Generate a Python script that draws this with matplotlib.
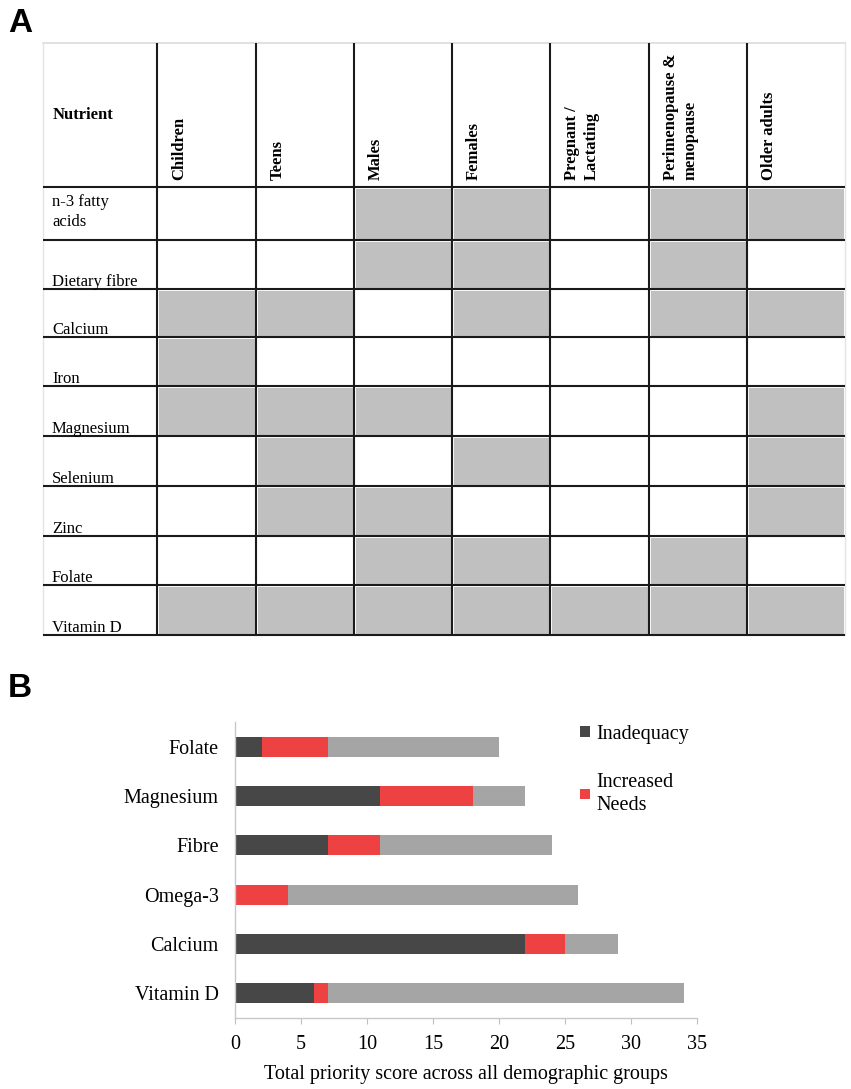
import matplotlib
matplotlib.use("Agg")
import matplotlib.pyplot as plt
from matplotlib.patches import Rectangle, Patch

plt.rcParams['font.family'] = ['Liberation Serif', 'DejaVu Serif']

# ---------------- data ----------------
groups = ["Children", "Teens", "Males", "Females", "Pregnant /\nLactating",
          "Perimenopause &\nmenopause", "Older adults"]
nutrients = ["n-3 fatty\nacids", "Dietary fibre", "Calcium", "Iron", "Magnesium",
             "Selenium", "Zinc", "Folate", "Vitamin D"]
priority = [
    [0, 0, 1, 1, 0, 1, 1],
    [0, 0, 1, 1, 0, 1, 0],
    [1, 1, 0, 1, 0, 1, 1],
    [1, 0, 0, 0, 0, 0, 0],
    [1, 1, 1, 0, 0, 0, 1],
    [0, 1, 0, 1, 0, 0, 1],
    [0, 1, 1, 0, 0, 0, 1],
    [0, 0, 1, 1, 0, 1, 0],
    [1, 1, 1, 1, 1, 1, 1],
]

bar_nutrients = ["Vitamin D", "Calcium", "Omega-3", "Fibre", "Magnesium", "Folate"]
inadequacy = [6, 22, 0, 7, 11, 2]
increased_needs = [1, 3, 4, 4, 7, 5]
other_score = [27, 4, 22, 13, 4, 13]
x_ticks = [0, 5, 10, 15, 20, 25, 30, 35]

# ---------------- figure ----------------
W, H = 851, 1089
fig = plt.figure(figsize=(W / 100, H / 100), dpi=100)

# ---- panel A: table (pixel coordinates) ----
axt = fig.add_axes([0, 0, 1, 1])
axt.set_xlim(0, W)
axt.set_ylim(H, 0)
axt.axis("off")

col_edges = [43, 157, 256, 354, 452, 550, 649, 747, 845]
row_edges = [43, 187, 240, 289, 337, 386, 436, 486, 536, 585, 635]
grey_fill = "#C0C0C0"

for i, row in enumerate(priority):
    for j, v in enumerate(row):
        if v:
            x0, x1 = col_edges[j + 1], col_edges[j + 2]
            y0, y1 = row_edges[i + 1], row_edges[i + 2]
            axt.add_patch(Rectangle((x0 + 1.5, y0 + 1.5), x1 - x0 - 3, y1 - y0 - 3,
                                    facecolor=grey_fill, edgecolor="none", zorder=1))

# faint outer border (top, left, right)
axt.plot([col_edges[0], col_edges[-1]], [row_edges[0], row_edges[0]], color="#dcdcdc", lw=1.2, zorder=2)
axt.plot([col_edges[0], col_edges[0]], [row_edges[0], row_edges[-1]], color="#e4e4e4", lw=1.0, zorder=2)
axt.plot([col_edges[-1], col_edges[-1]], [row_edges[0], row_edges[-1]], color="#e4e4e4", lw=1.0, zorder=2)

for y in row_edges[1:]:
    axt.plot([col_edges[0], col_edges[-1]], [y, y], color="#1a1a1a", lw=1.5, zorder=3,
             solid_capstyle="butt")
for x in col_edges[1:-1]:
    axt.plot([x, x], [row_edges[0], row_edges[-1]], color="#1a1a1a", lw=1.5, zorder=3,
             solid_capstyle="butt")

axt.text(53, 115, "Nutrient", fontsize=12, fontweight="bold", ha="left", va="center", zorder=4)

for j, g in enumerate(groups):
    axt.text(col_edges[j + 1] + 14, row_edges[1] - 7, g, rotation=90, fontsize=12,
             fontweight="bold", ha="left", va="bottom", multialignment="left",
             linespacing=1.3, zorder=4)

for i, n in enumerate(nutrients):
    if "\n" in n:
        axt.text(52, row_edges[i + 1] + 7, n, fontsize=12, ha="left", va="top",
                 linespacing=1.3, zorder=4)
    else:
        axt.text(52, row_edges[i + 2] - 3, n, fontsize=12, ha="left", va="baseline", zorder=4)

axt.text(8, 32, "A", fontsize=24, fontweight="bold", family="Liberation Sans",
         ha="left", va="baseline")
axt.text(8, 697, "B", fontsize=24, fontweight="bold", family="Liberation Sans",
         ha="left", va="baseline")

# ---- panel B: stacked bars ----
ax = fig.add_axes([235.3 / W, (H - 1018) / H, 461.5 / W, (1018 - 722) / H])
c_dark, c_red, c_grey = "#474747", "#EE4242", "#A5A5A5"
ypos = list(range(len(bar_nutrients)))
left2 = [a for a in inadequacy]
left3 = [a + b for a, b in zip(inadequacy, increased_needs)]
b1 = ax.barh(ypos, inadequacy, height=0.41, color=c_dark)
b2 = ax.barh(ypos, increased_needs, left=left2, height=0.41, color=c_red)
b3 = ax.barh(ypos, other_score, left=left3, height=0.41, color=c_grey)

fs = 14.5
ax.set_xlim(0, 35)
ax.set_ylim(-0.5, 5.5)
ax.set_xticks(x_ticks)
ax.set_xticklabels([str(t) for t in x_ticks], fontsize=fs)
ax.set_yticks(ypos)
ax.set_yticklabels(bar_nutrients, fontsize=fs)
ax.tick_params(axis="y", length=0, pad=12)
ax.tick_params(axis="x", length=4, color="#bfbfbf", pad=8, direction="out")
for s in ["top", "right"]:
    ax.spines[s].set_visible(False)
for s in ["left", "bottom"]:
    ax.spines[s].set_color("#c8c8c8")
    ax.spines[s].set_linewidth(1.0)
ax.set_xlabel("Total priority score across all demographic groups", fontsize=fs, labelpad=8)

handles = [Patch(facecolor=c_dark, edgecolor="none"), Patch(facecolor=c_red, edgecolor="none")]
leg = ax.legend(handles, ["Inadequacy", "Increased\nNeeds"], loc="upper left",
                bbox_to_anchor=(580 / W, 1 - 725 / H), bbox_transform=fig.transFigure,
                frameon=False, fontsize=fs, handlelength=0.5, handleheight=0.45,
                handletextpad=0.3, labelspacing=1.45, borderpad=0, borderaxespad=0)
for t in leg.get_texts():
    t.set_linespacing(1.27)

fig.savefig("out.png", dpi=100)
